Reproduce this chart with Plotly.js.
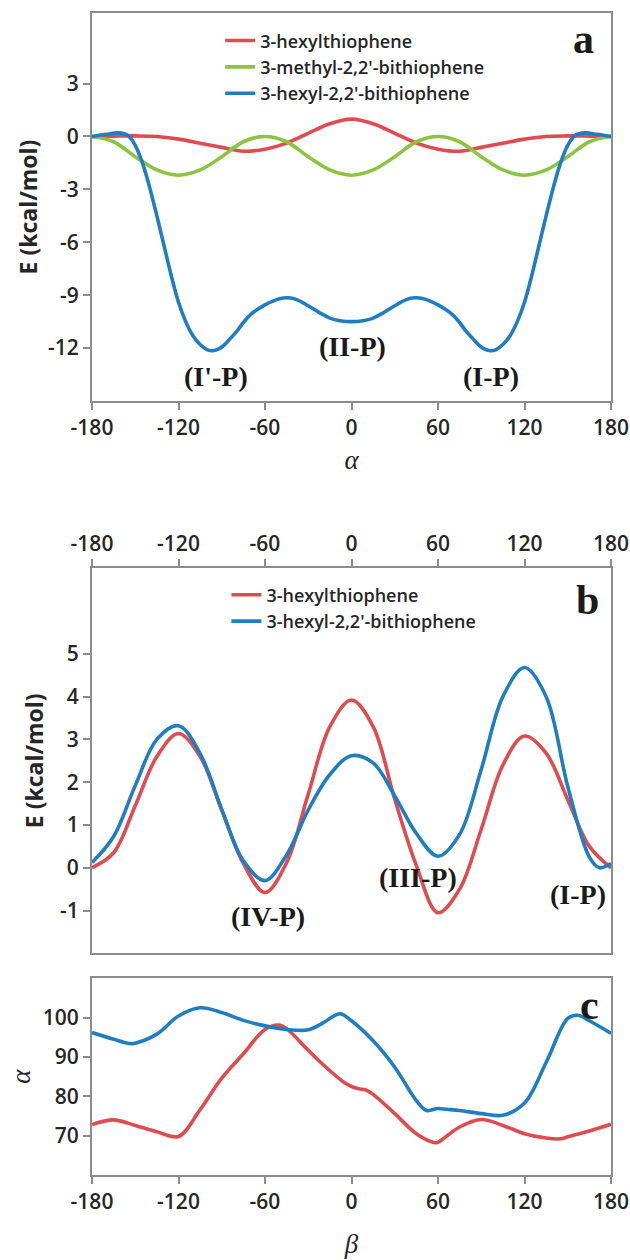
<!DOCTYPE html>
<html>
<head>
<meta charset="utf-8">
<script src="https://cdn.plot.ly/plotly-3.0.1.min.js"></script>
<style>html,body{margin:0;padding:0;background:#fff;}</style>
</head>
<body>
<div id="chart" style="width:630px;height:1260px;"></div>
<script>
// ---------- Panel a : E vs alpha ----------
const aRedX   = [-180,-165,-150,-135,-120,-105,-90,-75,-60,-45,-30,-15,0,15,30,45,60,75,90,105,120,135,150,165,180];
const aRedY   = [0,0.02,0.03,0,-0.15,-0.38,-0.62,-0.84,-0.72,-0.38,0.18,0.72,0.98,0.72,0.18,-0.38,-0.72,-0.84,-0.62,-0.38,-0.15,0,0.03,0.02,0];
const aGreenX = [-180,-165,-150,-135,-120,-105,-90,-75,-60,-45,-30,-15,0,15,30,45,60,75,90,105,120,135,150,165,180];
const aGreenY = [0,-0.3,-1.15,-1.9,-2.2,-1.9,-1.15,-0.3,0,-0.3,-1.15,-1.9,-2.2,-1.9,-1.15,-0.3,0,-0.3,-1.15,-1.9,-2.2,-1.9,-1.15,-0.3,0];
const aBlueX  = [-180,-170,-162,-155,-150,-145,-140,-135,-130,-125,-120,-115,-110,-105,-100,-96,-92,-88,-84,-80,-75,-70,-65,-60,-55,-50,-44,-38,-30,-22,-15,-8,0,
                 8,15,22,30,38,44,50,55,60,65,70,75,80,84,88,92,96,100,105,110,115,120,125,130,135,140,145,150,155,162,170,180];
const aBlueY  = [0,0.12,0.2,0.05,-0.5,-1.5,-2.9,-4.5,-6.2,-7.9,-9.4,-10.5,-11.3,-11.8,-12.1,-12.15,-12.05,-11.8,-11.45,-11.1,-10.55,-10.1,-9.8,-9.55,-9.35,-9.2,-9.15,-9.25,-9.6,-10.0,-10.3,-10.45,-10.5,
                 -10.45,-10.3,-10.0,-9.6,-9.25,-9.15,-9.2,-9.35,-9.55,-9.8,-10.1,-10.55,-11.1,-11.45,-11.8,-12.05,-12.15,-12.1,-11.8,-11.3,-10.5,-9.4,-7.9,-6.2,-4.5,-2.9,-1.5,-0.5,0.05,0.2,0.12,0];

// ---------- Panel b : E vs beta ----------
const bRedX  = [-180,-165,-150,-135,-120,-105,-90,-75,-60,-45,-30,-15,0,15,30,45,60,75,90,105,120,135,150,165,180];
const bRedY  = [0,0.35,1.45,2.6,3.14,2.6,1.35,0.1,-0.58,0.12,1.72,3.3,3.92,3.3,1.6,0.05,-1.05,-0.5,0.9,2.4,3.08,2.68,1.59,0.5,0];
const bBlueX = [-180,-165,-150,-135,-120,-105,-90,-75,-60,-45,-30,-15,0,15,30,45,60,75,90,105,120,135,150,165,172,180];
const bBlueY = [0.12,0.73,1.92,3.0,3.32,2.67,1.36,0.16,-0.3,0.3,1.35,2.18,2.62,2.45,1.68,0.8,0.27,0.78,2.3,4.0,4.68,4.0,1.9,0.25,0.0,0.1];

// ---------- Panel c : alpha vs beta ----------
const cRedX  = [-180,-165,-150,-135,-120,-105,-90,-75,-60,-50,-45,-30,-25,-15,-5,0,5,10,15,30,45,58,60,75,90,105,120,135,145,150,165,180];
const cRedY  = [72.8,74.0,72.6,71.0,69.8,76.6,84.6,90.8,97.0,98.1,97.2,91.7,89.9,86.5,83.5,82.5,81.9,81.6,80.5,75.6,70.5,68.2,68.3,72.2,74.1,72.6,70.5,69.4,69.2,69.7,71.2,72.9];
const cBlueX = [-180,-165,-154,-150,-135,-120,-105,-90,-75,-60,-45,-30,-20,-8,0,15,30,45,52,60,66,75,90,105,120,135,150,157,165,180];
const cBlueY = [96.2,94.5,93.4,93.5,95.8,100.4,102.5,101.3,99.3,97.9,97.0,96.9,98.6,101.0,99.2,94.1,87.4,78.9,76.4,76.9,76.7,76.4,75.6,75.2,78.3,88.6,99.8,100.6,99.2,96.0];

// ---------- texts ----------
const seriesNames = ['3-hexylthiophene','3-methyl-2,2\'-bithiophene','3-hexyl-2,2\'-bithiophene'];
const xTickVals = [-180,-120,-60,0,60,120,180];
const xTickText = ['-180','-120','-60','0','60','120','180'];
const yTicksA = [-12,-9,-6,-3,0,3];
const yTextA  = ['-12','-9','-6','-3','0','3'];
const yTicksB = [-1,0,1,2,3,4,5];
const yTextB  = ['-1','0','1','2','3','4','5'];
const yTicksC = [70,80,90,100];
const yTextC  = ['70','80','90','100'];
const confA = ["(I'-P)","(II-P)","(I-P)"];
const confAx = [-94,0.5,97];
const confAy = [-13.6,-11.9,-13.6];
const confB = ["(IV-P)","(III-P)","(I-P)"];
const confBx = [-58,46,157];
const confBy = [-1.13,-0.23,-0.62];

const RED='#E04B4F', GREEN='#8CC43F', BLUE='#1F7EC2';
const AX='#8C8C8C', TXT='#262626';
const LW=3.6;

function tr(x,y,color,name,xa,ya,legend,show){
  return {x:x,y:y,type:'scatter',mode:'lines',name:name,xaxis:xa,yaxis:ya,
    line:{color:color,width:LW,shape:'spline',smoothing:1.0},
    legend:legend, showlegend:show, hoverinfo:'skip'};
}
const data = [
  tr(aRedX,aRedY,RED,seriesNames[0],'x','y','legend',true),
  tr(aGreenX,aGreenY,GREEN,seriesNames[1],'x','y','legend',true),
  tr(aBlueX,aBlueY,BLUE,seriesNames[2],'x','y','legend',true),
  tr(bRedX,bRedY,RED,seriesNames[0],'x2','y2','legend2',true),
  tr(bBlueX,bBlueY,BLUE,seriesNames[2],'x2','y2','legend2',true),
  tr(cRedX,cRedY,RED,seriesNames[0],'x3','y3','legend',false),
  tr(cBlueX,cBlueY,BLUE,seriesNames[2],'x3','y3','legend',false)
];

const tickFont = {family:'Open Sans, sans-serif', size:21, color:TXT, weight:600};
const yTitleFont = {family:'Open Sans, sans-serif', size:23, color:TXT, weight:700};
const greekFont = {family:'Liberation Serif, serif', size:27, color:TXT, style:'italic'};

function xax(extra){
  return Object.assign({range:[-180,180], tickvals:xTickVals, ticktext:xTickText, ticks:'outside', ticklen:7, tickwidth:2, tickcolor:AX,
    showline:true, linecolor:AX, linewidth:2, mirror:true, showgrid:false, zeroline:false,
    tickfont:tickFont, fixedrange:true}, extra);
}
function yax(extra){
  return Object.assign({ticks:'outside', ticklen:7, tickwidth:2, tickcolor:AX,
    showline:true, linecolor:AX, linewidth:2, mirror:true, showgrid:false, zeroline:false,
    tickfont:tickFont, fixedrange:true}, extra);
}

const annFontBig = {family:'Liberation Serif, serif', size:28, color:'#1a1a1a', weight:700};
const panelFont = {family:'Liberation Serif, serif', size:42, color:'#1a1a1a', weight:700};
const annotations = [];
confA.forEach((t,i)=>annotations.push({text:t,x:confAx[i],y:confAy[i],xref:'x',yref:'y',showarrow:false,font:annFontBig}));
confB.forEach((t,i)=>annotations.push({text:t,x:confBx[i],y:confBy[i],xref:'x2',yref:'y2',showarrow:false,font:annFontBig}));
annotations.push({text:'a',x:161,y:5.55,xref:'x',yref:'y',showarrow:false,font:panelFont});
annotations.push({text:'b',x:164,y:6.25,xref:'x2',yref:'y2',showarrow:false,font:panelFont});
annotations.push({text:'c',x:165,y:103.3,xref:'x3',yref:'y3',showarrow:false,font:panelFont});

const legFont = {family:'Open Sans, sans-serif', size:18, color:TXT, weight:600};
const layout = {
  width:630, height:1260,
  margin:{l:92,r:19,t:13,b:85},
  paper_bgcolor:'#ffffff', plot_bgcolor:'#ffffff',
  xaxis: xax({domain:[0,1], anchor:'y', title:{text:'α', font:greekFont, standoff:10}}),
  yaxis: yax({domain:[0.6661,1], anchor:'x', range:[-15,7], tickvals:yTicksA, ticktext:yTextA, title:{text:'E (kcal/mol)', font:yTitleFont, standoff:4}}),
  xaxis2: xax({domain:[0,1], anchor:'y2', side:'top'}),
  yaxis2: yax({domain:[0.1908,0.5221], anchor:'x2', range:[-2,7], tickvals:yTicksB, ticktext:yTextB, title:{text:'E (kcal/mol)', font:yTitleFont, standoff:10}}),
  xaxis3: xax({domain:[0,1], anchor:'y3', title:{text:'β', font:greekFont, standoff:20}}),
  yaxis3: yax({domain:[0,0.1693], anchor:'x3', range:[60,110], tickvals:yTicksC, ticktext:yTextC, title:{text:'α', font:greekFont, standoff:4}}),
  legend:{x:0.247, xanchor:'left', y:0.992, yanchor:'top', font:legFont, bgcolor:'rgba(0,0,0,0)', borderwidth:0, tracegroupgap:0},
  legend2:{x:0.259, xanchor:'left', y:0.515, yanchor:'top', font:legFont, bgcolor:'rgba(0,0,0,0)', borderwidth:0, tracegroupgap:0},
  annotations: annotations
};
Plotly.newPlot('chart', data, layout, {displayModeBar:false, staticPlot:true});
</script>
</body>
</html>
